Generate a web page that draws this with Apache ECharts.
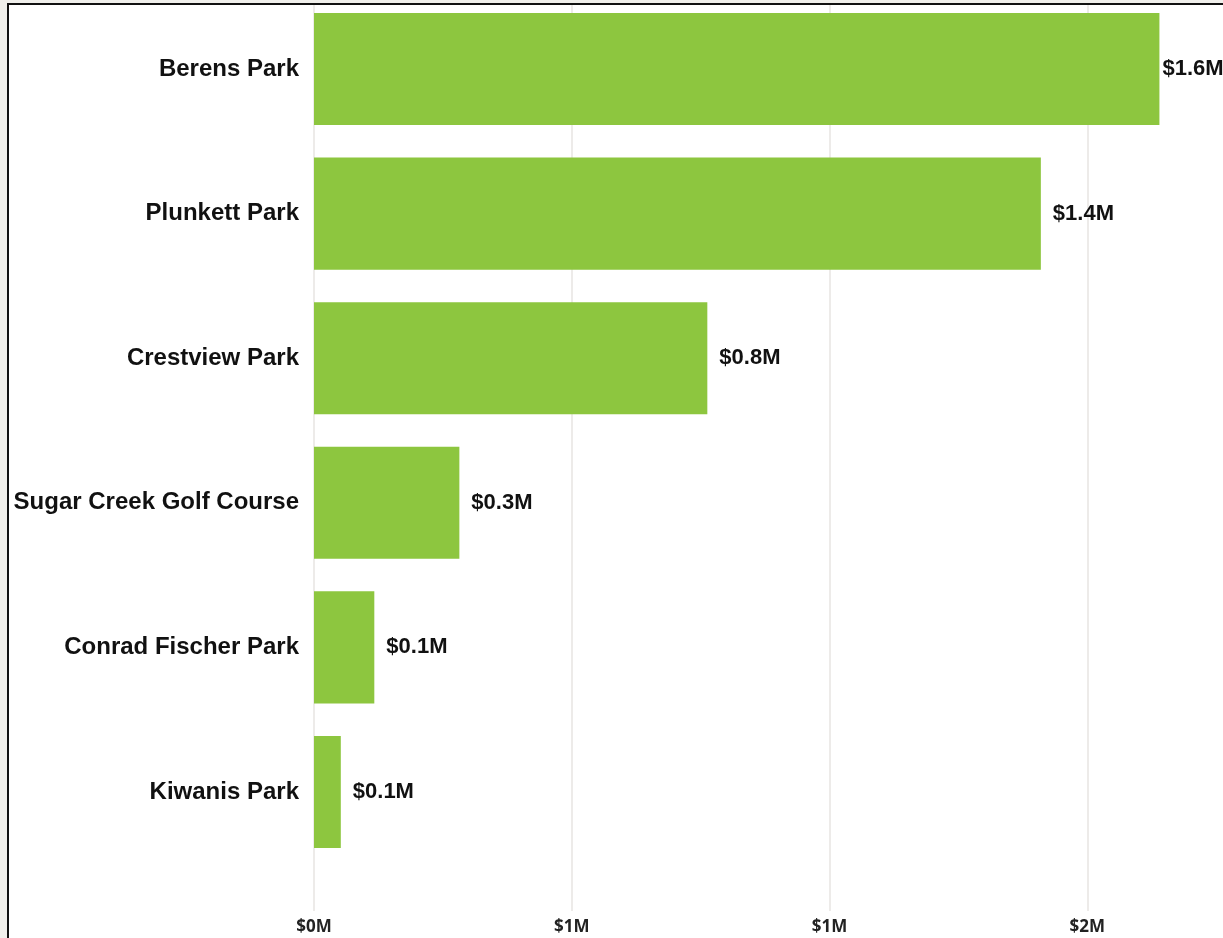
<!DOCTYPE html>
<html>
<head>
<meta charset="utf-8">
<script src="https://cdn.jsdelivr.net/npm/echarts@6/dist/echarts.min.js"></script>
<style>
  html, body { margin: 0; padding: 0; background: #f0efeb; overflow: hidden; }
  #frame {
    position: absolute; left: 7px; top: 3px; width: 1400px; height: 1100px;
    border: 2px solid #111; background: #ffffff;
  }
  #chart { position: absolute; left: 0; top: 0; width: 1223px; height: 938px; }
</style>
</head>
<body>
<div id="frame"></div>
<div id="chart"></div>
<script>
// Park names, top to bottom
const parks = [
  'Berens Park',
  'Plunkett Park',
  'Crestview Park',
  'Sugar Creek Golf Course',
  'Conrad Fischer Park',
  'Kiwanis Park'
];
// Amounts in millions of dollars
const amounts = [1.64, 1.41, 0.763, 0.282, 0.117, 0.052];
// Value axis range and step (millions)
const axisMin = 0;
const axisMax = 2;
const axisStep = 0.5;

const fmtAxis = v => '$' + Math.round(v) + 'M';
const fmtValue = v => '$' + v.toFixed(1) + 'M';

const chart = echarts.init(document.getElementById('chart'), null, { renderer: 'canvas' });

// The widest bar sits against the edge, so its label hugs the bar end.
const maxAmount = Math.max.apply(null, amounts);
const barData = amounts.map(v => ({
  value: v,
  label: { distance: v === maxAmount ? 3 : 12 }
}));

const left = 314;
const width = 1031;
const labelFont = 'Arial, "Liberation Sans", sans-serif';

chart.setOption({
  backgroundColor: 'transparent',
  animation: false,
  grid: [
    { left: left, width: width, top: -3.3, height: 867.6, containLabel: false, outerBoundsMode: 'none' },
    { left: left, width: width, top: 5, height: 906, containLabel: false, outerBoundsMode: 'none' }
  ],
  xAxis: [
    { gridIndex: 0, type: 'value', min: axisMin, max: axisMax, interval: axisStep, show: false },
    {
      gridIndex: 1, type: 'value', min: axisMin, max: axisMax, interval: axisStep,
      axisLine: { show: false },
      axisTick: { show: false },
      splitLine: { show: true, lineStyle: { color: '#e7e5e2', width: 1.5 } },
      axisLabel: {
        formatter: fmtAxis,
        color: '#222',
        fontFamily: '"Open Sans", sans-serif',
        fontWeight: 'bold',
        fontSize: 17,
        margin: 8
      }
    }
  ],
  yAxis: [
    {
      gridIndex: 0, type: 'category', data: parks, inverse: true,
      axisLine: { show: false },
      axisTick: { show: false },
      splitLine: { show: false },
      axisLabel: {
        color: '#111',
        fontFamily: labelFont,
        fontWeight: 'bold',
        fontSize: 24,
        margin: 15
      }
    },
    { gridIndex: 1, type: 'value', min: 0, max: 1, show: false }
  ],
  series: [
    {
      type: 'bar',
      xAxisIndex: 0,
      yAxisIndex: 0,
      data: barData,
      barCategoryGap: '22.5%',
      itemStyle: { color: '#8dc63f' },
      label: {
        show: true,
        position: 'right',
        formatter: p => fmtValue(p.value),
        color: '#111',
        fontFamily: labelFont,
        fontWeight: 'bold',
        fontSize: 22
      }
    }
  ]
});
</script>
</body>
</html>
